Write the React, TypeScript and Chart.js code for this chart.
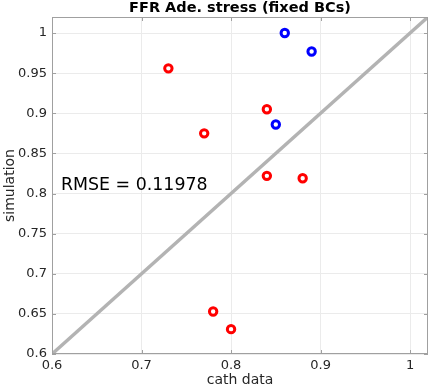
import React, { useEffect, useRef } from "react";
import { Chart, registerables } from "chart.js";

Chart.register(...registerables);

const TITLE = "FFR Ade. stress (fixed BCs)";
const X_LABEL = "cath data";
const Y_LABEL = "simulation";
const RMSE_TEXT = "RMSE = 0.11978";
const RMSE_POS = [0.61, 0.81];

const RED_X = [0.73, 0.77, 0.84, 0.84, 0.88, 0.78, 0.8];
const RED_Y = [0.956, 0.875, 0.905, 0.822, 0.819, 0.653, 0.631];
const BLUE_X = [0.86, 0.89, 0.85];
const BLUE_Y = [1.0, 0.977, 0.886];

const DIAG = [0.6, 1.02];
const AXIS_MIN = 0.6;
const AXIS_MAX = 1.02;
const X_TICKS = [0.6, 0.7, 0.8, 0.9, 1];
const Y_TICKS = [0.6, 0.65, 0.7, 0.75, 0.8, 0.85, 0.9, 0.95, 1];

const FONT = "'DejaVu Sans', sans-serif";
const TEXT_COLOR = "#262626";
const BOX_COLOR = "#a0a0a0";
const GRID_COLOR = "#ebebeb";

const fmt = (v: number) => String(Number(v.toFixed(2)));

const boxPlugin = {
  id: "boxPlugin",
  afterDatasetsDraw(chart: any) {
    const { ctx, chartArea, scales } = chart;
    const { left, right, top, bottom } = chartArea;
    ctx.save();
    ctx.strokeStyle = BOX_COLOR;
    ctx.lineWidth = 1;
    ctx.strokeRect(left + 0.5, top + 0.5, right - left - 1, bottom - top - 1);
    ctx.beginPath();
    const tl = 4;
    X_TICKS.forEach((v) => {
      const x = Math.round(scales.x.getPixelForValue(v)) + 0.5;
      ctx.moveTo(x, bottom);
      ctx.lineTo(x, bottom - tl);
      ctx.moveTo(x, top);
      ctx.lineTo(x, top + tl);
    });
    Y_TICKS.forEach((v) => {
      const y = Math.round(scales.y.getPixelForValue(v)) + 0.5;
      ctx.moveTo(left, y);
      ctx.lineTo(left + tl, y);
      ctx.moveTo(right, y);
      ctx.lineTo(right - tl, y);
    });
    ctx.stroke();
    // annotation text
    ctx.fillStyle = "#000";
    ctx.font = `17.4px ${FONT}`;
    ctx.textAlign = "left";
    ctx.textBaseline = "middle";
    ctx.fillText(
      RMSE_TEXT,
      scales.x.getPixelForValue(RMSE_POS[0]),
      scales.y.getPixelForValue(RMSE_POS[1])
    );
    // title centred over the plot area
    ctx.font = `bold 14.5px ${FONT}`;
    ctx.textAlign = "center";
    ctx.fillText(TITLE, (left + right) / 2, 8.5);
    ctx.restore();
  },
};

export default function App() {
  const ref = useRef<HTMLCanvasElement>(null);
  useEffect(() => {
    document.body.style.margin = "0";
    const canvas = ref.current!;
    const chart = new Chart(canvas, {
      type: "scatter",
      data: {
        datasets: [
          {
            type: "line",
            label: "diag",
            data: DIAG.map((v) => ({ x: v, y: v })),
            borderColor: "#b3b3b3",
            borderWidth: 3.5,
            pointRadius: 0,
            fill: false,
          } as any,
          {
            label: "red",
            data: RED_X.map((x, i) => ({ x, y: RED_Y[i] })),
            borderColor: "#ff0000",
            backgroundColor: "#ffffff",
            borderWidth: 3,
            pointRadius: 3.7,
          },
          {
            label: "blue",
            data: BLUE_X.map((x, i) => ({ x, y: BLUE_Y[i] })),
            borderColor: "#0000ff",
            backgroundColor: "#ffffff",
            borderWidth: 3,
            pointRadius: 3.7,
          },
        ],
      },
      options: {
        responsive: false,
        animation: false,
        devicePixelRatio: 1,
        layout: { autoPadding: false, padding: { top: 17, right: 3, bottom: 0, left: 0 } },
        plugins: {
          legend: { display: false },
          tooltip: { enabled: false },
          title: { display: false },
        },
        scales: {
          x: {
            type: "linear",
            min: AXIS_MIN,
            max: AXIS_MAX,
            afterBuildTicks: (axis: any) => {
              axis.ticks = X_TICKS.map((v) => ({ value: v }));
            },
            afterFit: (axis: any) => {
              axis.height = 36;
              axis.paddingLeft = 0;
              axis.paddingRight = 0;
            },
            grid: { color: GRID_COLOR, drawTicks: false },
            border: { display: false },
            ticks: {
              color: TEXT_COLOR,
              font: { family: FONT, size: 13 },
              padding: 4,
              maxRotation: 0,
              callback: (v: any) => fmt(Number(v)),
            },
            title: {
              display: true,
              text: X_LABEL,
              color: TEXT_COLOR,
              font: { family: FONT, size: 14 },
              padding: { top: 0, bottom: 1 },
            },
          },
          y: {
            type: "linear",
            min: AXIS_MIN,
            max: AXIS_MAX,
            afterBuildTicks: (axis: any) => {
              axis.ticks = Y_TICKS.map((v) => ({ value: v }));
            },
            afterFit: (axis: any) => {
              axis.width = 52;
              axis.paddingTop = 0;
              axis.paddingBottom = 0;
            },
            grid: { color: GRID_COLOR, drawTicks: false },
            border: { display: false },
            ticks: {
              color: TEXT_COLOR,
              font: { family: FONT, size: 13 },
              padding: 5,
              callback: (v: any) => fmt(Number(v)),
            },
            title: {
              display: true,
              text: Y_LABEL,
              color: TEXT_COLOR,
              font: { family: FONT, size: 14 },
              padding: { top: 2, bottom: 0 },
            },
          },
        },
      },
      plugins: [boxPlugin],
    });
    return () => chart.destroy();
  }, []);
  return <canvas ref={ref} width={431} height={390} style={{ display: "block" }} />;
}
